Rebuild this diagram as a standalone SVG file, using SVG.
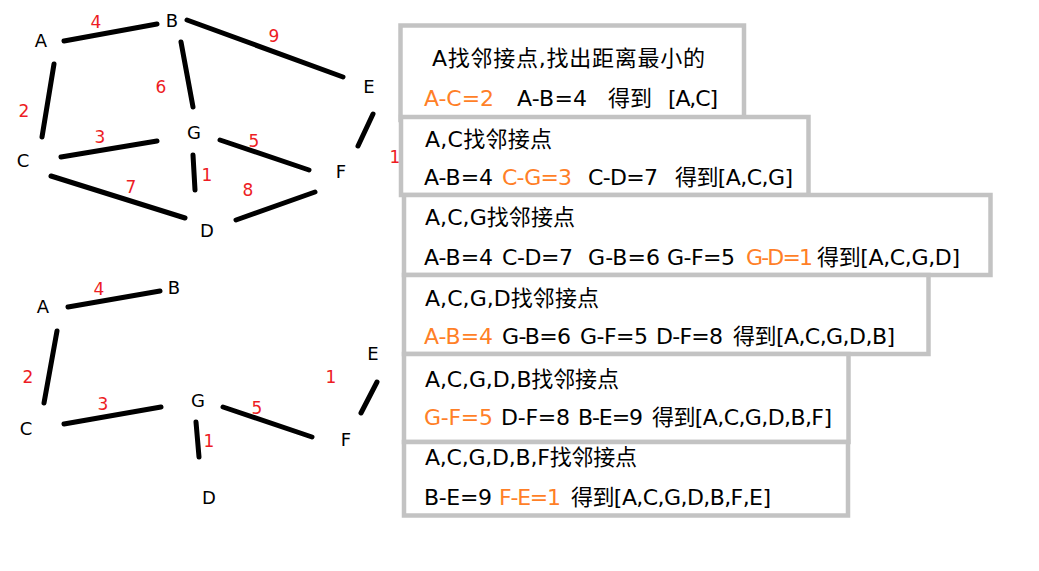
<svg xmlns="http://www.w3.org/2000/svg" width="1039" height="571" viewBox="0 0 1039 571">
<style>
.e{stroke:#000;stroke-width:5;stroke-linecap:round;fill:none}
.n{font-family:"DejaVu Sans","Noto Sans CJK SC",sans-serif;font-size:18px;fill:#000;text-anchor:middle}
.w{font-family:"DejaVu Sans","Noto Sans CJK SC",sans-serif;font-size:17px;fill:#ED1C24;text-anchor:middle}
.box{fill:#fff;stroke:#C3C3C3;stroke-width:4.5}
.t{font-family:"DejaVu Sans","Noto Sans CJK SC",sans-serif;font-size:22px;fill:#000}
.o{fill:#FF7F27}
</style>
<rect width="1039" height="571" fill="#fff"/>
<g id="connectors">
<line class="e" x1="64" y1="41" x2="157" y2="24"/>
<line class="e" x1="187" y1="20" x2="343" y2="77"/>
<line class="e" x1="181" y1="42" x2="193" y2="107"/>
<line class="e" x1="54" y1="64" x2="42" y2="137"/>
<line class="e" x1="61" y1="157" x2="157" y2="141"/>
<line class="e" x1="220" y1="140" x2="309" y2="170"/>
<line class="e" x1="193" y1="155" x2="195" y2="190"/>
<line class="e" x1="51" y1="176" x2="185" y2="218"/>
<line class="e" x1="236" y1="220" x2="315" y2="192"/>
<line class="e" x1="373" y1="114" x2="358" y2="146"/>
<line class="e" x1="68" y1="307" x2="160" y2="291"/>
<line class="e" x1="57" y1="331" x2="44" y2="403"/>
<line class="e" x1="64" y1="424" x2="161" y2="407"/>
<line class="e" x1="223" y1="407" x2="312" y2="437"/>
<line class="e" x1="196" y1="422" x2="199" y2="457"/>
<line class="e" x1="377" y1="382" x2="361" y2="413"/>
</g>
<g id="weights">
<text class="w" x="96" y="28">4</text>
<text class="w" x="274" y="42">9</text>
<text class="w" x="161" y="93">6</text>
<text class="w" x="24" y="117">2</text>
<text class="w" x="100" y="143">3</text>
<text class="w" x="254" y="147">5</text>
<text class="w" x="207" y="181">1</text>
<text class="w" x="131" y="193">7</text>
<text class="w" x="248" y="196">8</text>
<text class="w" x="395" y="163">1</text>
<text class="w" x="99" y="295">4</text>
<text class="w" x="28" y="383">2</text>
<text class="w" x="331" y="383">1</text>
<text class="w" x="103" y="410">3</text>
<text class="w" x="257" y="414">5</text>
<text class="w" x="209" y="447">1</text>
</g>
<g id="top-A"><text class="n" x="41" y="47">A</text></g>
<g id="top-B"><text class="n" x="172" y="27">B</text></g>
<g id="top-E"><text class="n" x="369" y="93">E</text></g>
<g id="top-G"><text class="n" x="194" y="139">G</text></g>
<g id="top-C"><text class="n" x="23" y="167">C</text></g>
<g id="top-F"><text class="n" x="341" y="178">F</text></g>
<g id="top-D"><text class="n" x="207" y="237">D</text></g>
<g id="bot-A"><text class="n" x="43" y="313">A</text></g>
<g id="bot-B"><text class="n" x="174" y="294">B</text></g>
<g id="bot-E"><text class="n" x="373" y="360">E</text></g>
<g id="bot-G"><text class="n" x="198" y="407">G</text></g>
<g id="bot-C"><text class="n" x="26" y="435">C</text></g>
<g id="bot-F"><text class="n" x="346" y="446">F</text></g>
<g id="bot-D"><text class="n" x="209" y="504">D</text></g>
<g id="step1">
<rect class="box" x="400.5" y="25.5" width="343.5" height="94.5"/>
<text class="t" x="432" y="66" textLength="273">A找邻接点,找出距离最小的</text>
<text class="t o" x="424" y="106" textLength="70">A-C=2</text>
<text class="t" x="517" y="106" textLength="70">A-B=4</text>
<text class="t" x="608" y="106" textLength="44">得到</text>
<text class="t" x="668" y="106" textLength="50">[A,C]</text>
</g>
<g id="step2">
<rect class="box" x="401" y="117" width="407.5" height="78"/>
<text class="t" x="425" y="147" textLength="127">A,C找邻接点</text>
<text class="t" x="424" y="185" textLength="69">A-B=4</text>
<text class="t o" x="502" y="185" textLength="70">C-G=3</text>
<text class="t" x="588" y="185" textLength="70">C-D=7</text>
<text class="t" x="675" y="185" textLength="118">得到[A,C,G]</text>
</g>
<g id="step3">
<rect class="box" x="404" y="195" width="586.5" height="80"/>
<text class="t" x="425" y="225" textLength="150">A,C,G找邻接点</text>
<text class="t" x="424" y="265" textLength="69">A-B=4</text>
<text class="t" x="502" y="265" textLength="71">C-D=7</text>
<text class="t" x="588" y="265" textLength="72">G-B=6</text>
<text class="t" x="667" y="265" textLength="68">G-F=5</text>
<text class="t o" x="746" y="265" textLength="67">G-D=1</text>
<text class="t" x="817" y="265" textLength="143">得到[A,C,G,D]</text>
</g>
<g id="step4">
<rect class="box" x="404" y="275" width="524.5" height="79"/>
<text class="t" x="425" y="306" textLength="174">A,C,G,D找邻接点</text>
<text class="t o" x="424" y="344" textLength="69">A-B=4</text>
<text class="t" x="502" y="344" textLength="69">G-B=6</text>
<text class="t" x="580" y="344" textLength="68">G-F=5</text>
<text class="t" x="656" y="344" textLength="67">D-F=8</text>
<text class="t" x="733" y="344" textLength="162">得到[A,C,G,D,B]</text>
</g>
<g id="step5">
<rect class="box" x="404" y="354" width="444.5" height="88"/>
<text class="t" x="425" y="387" textLength="194">A,C,G,D,B找邻接点</text>
<text class="t o" x="424" y="425" textLength="69">G-F=5</text>
<text class="t" x="501" y="425" textLength="69">D-F=8</text>
<text class="t" x="578" y="425" textLength="65">B-E=9</text>
<text class="t" x="652" y="425" textLength="180">得到[A,C,G,D,B,F]</text>
</g>
<g id="step6">
<rect class="box" x="404" y="442" width="444" height="73.5"/>
<text class="t" x="425" y="465" textLength="212">A,C,G,D,B,F找邻接点</text>
<text class="t" x="424" y="505" textLength="68">B-E=9</text>
<text class="t o" x="499" y="505" textLength="62">F-E=1</text>
<text class="t" x="571" y="505" textLength="200">得到[A,C,G,D,B,F,E]</text>
</g>
</svg>
